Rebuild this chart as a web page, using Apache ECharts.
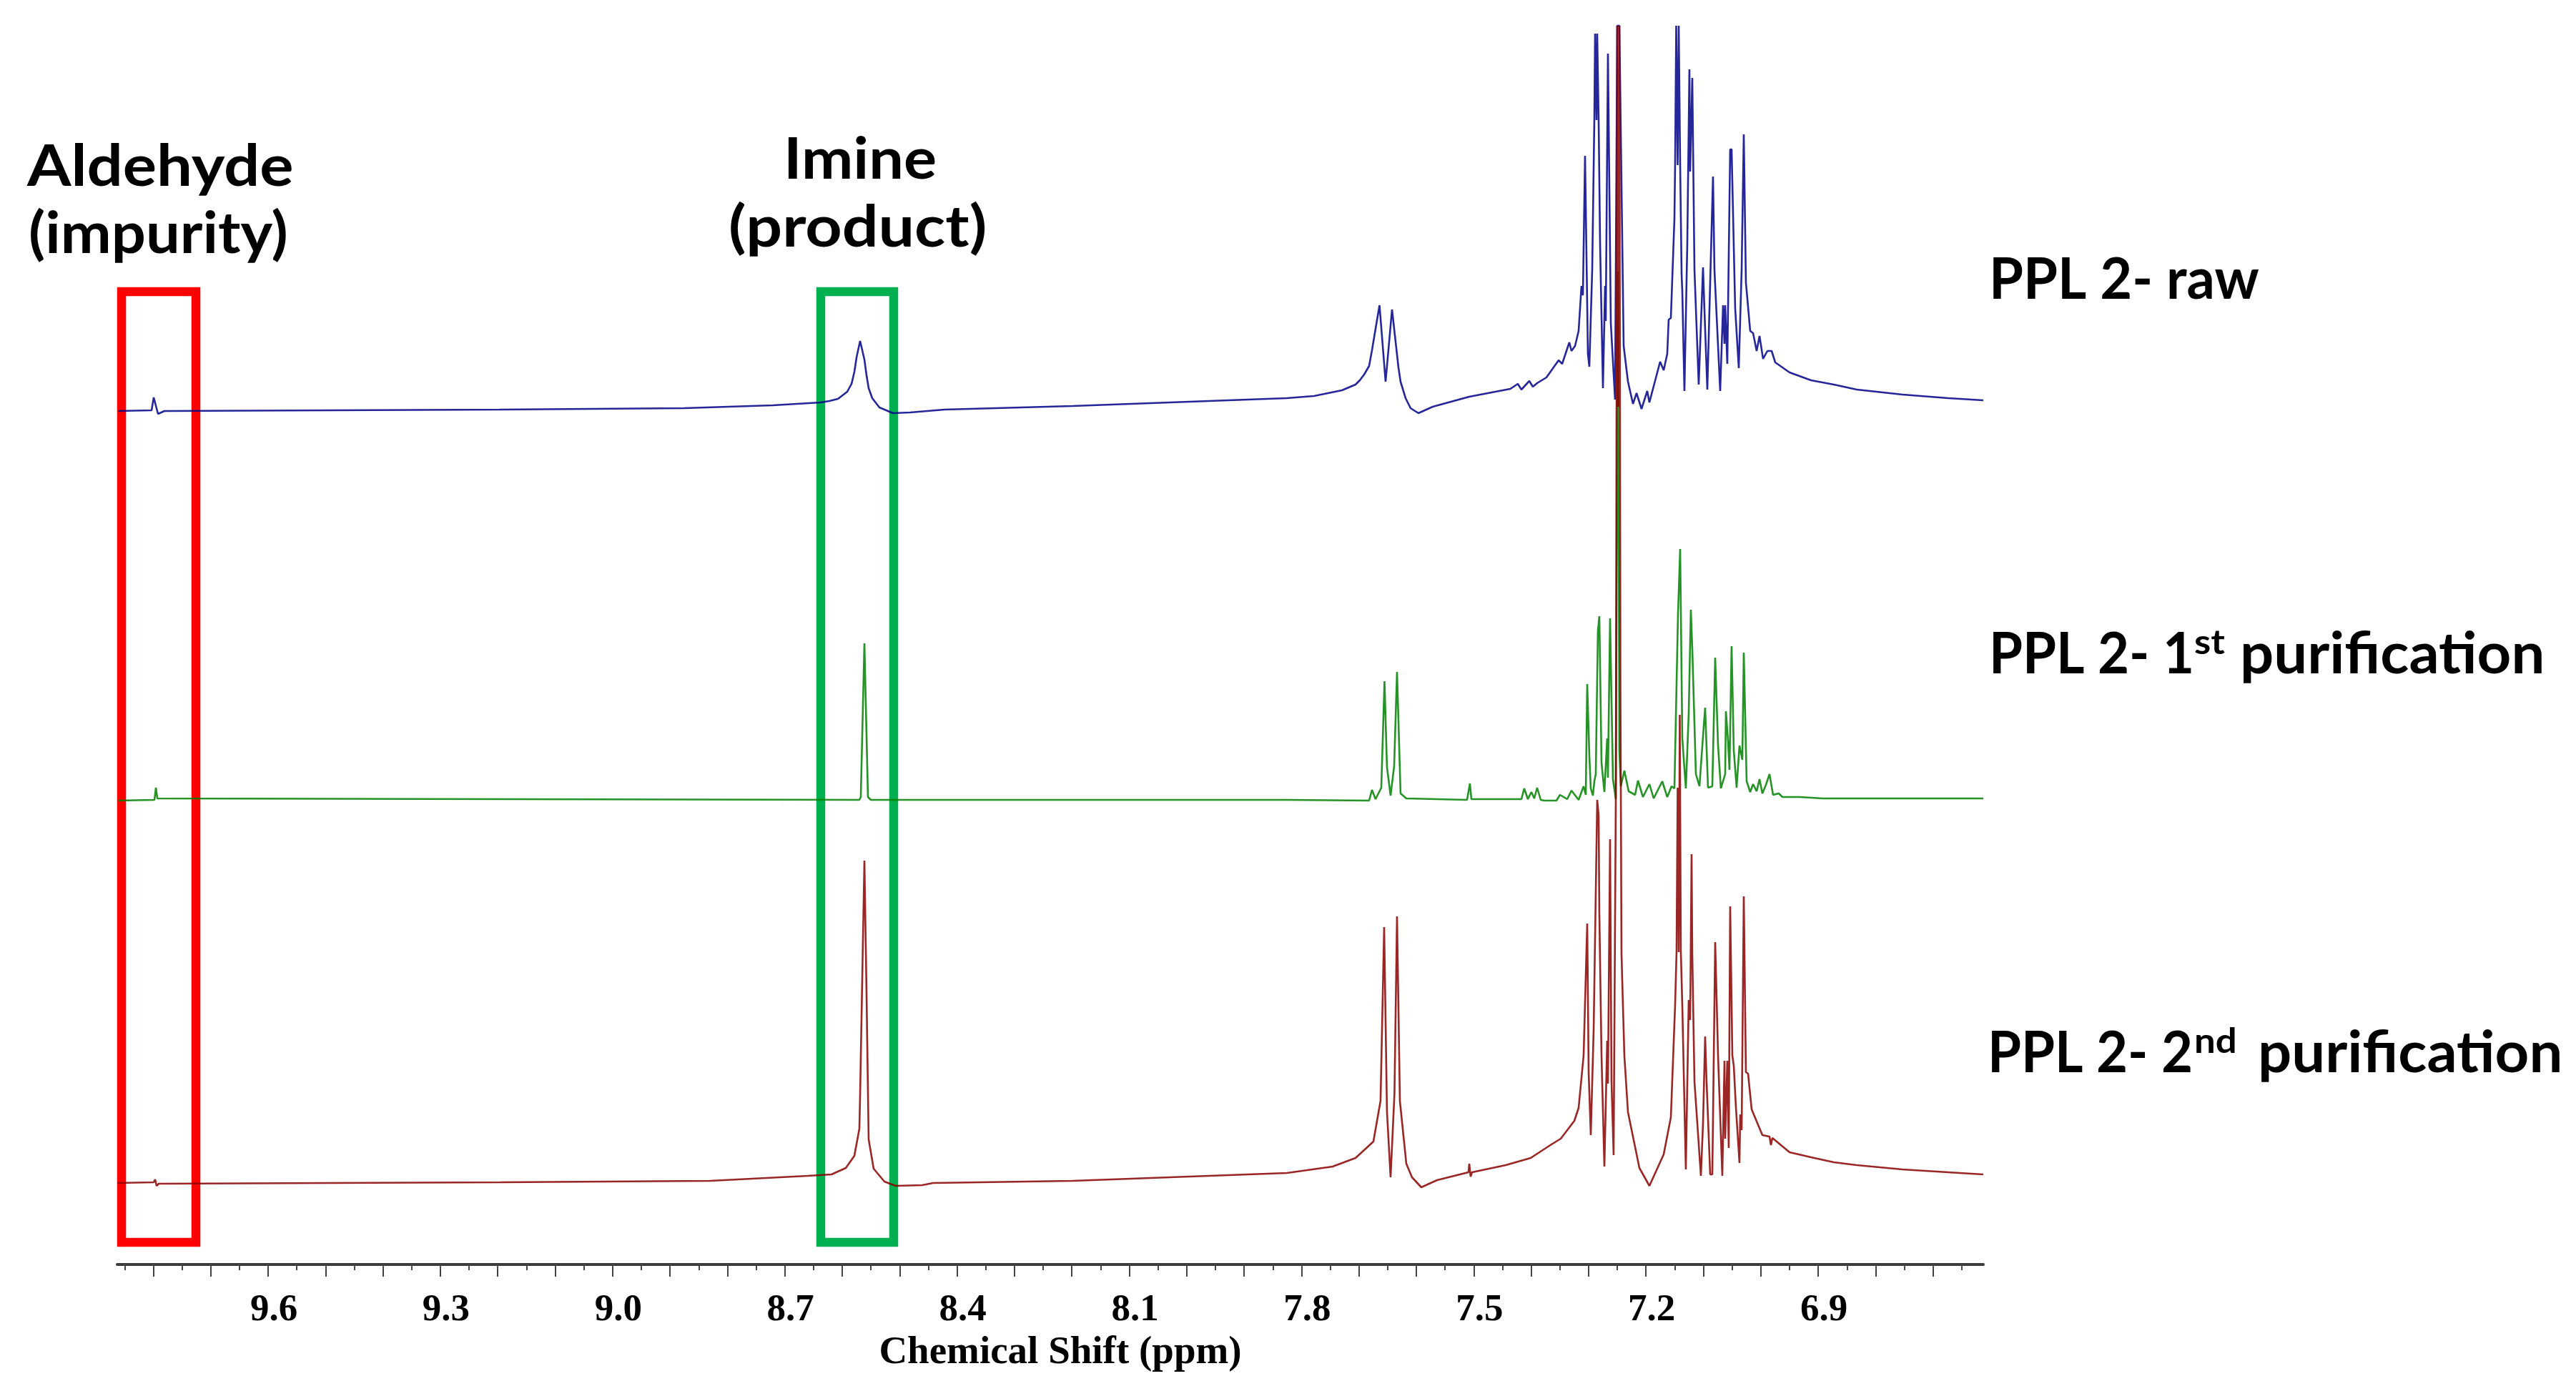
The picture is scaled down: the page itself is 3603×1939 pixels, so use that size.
<!DOCTYPE html>
<html><head><meta charset="utf-8">
<style>html,body{margin:0;padding:0;background:#fff}#c{width:3603px;height:1939px}</style>
<script src="https://cdn.jsdelivr.net/npm/echarts@6/dist/echarts.min.js"></script>
</head><body><div id="c"></div>
<script>
const labelTicks=[9.6,9.3,9.0,8.7,8.4,8.1,7.8,7.5,7.2,6.9];
const majorTicks=[9.8,9.7,9.6,9.5,9.4,9.3,9.2,9.1,9.0,8.9,8.8,8.7,8.6,8.5,8.4,8.3,8.2,8.1,8.0,7.9,7.8,7.7,7.6,7.5,7.4,7.3,7.2,7.1,7.0,6.9,6.8,6.7];
const minorTicks=[9.85,9.75,9.65,9.55,9.45,9.35,9.25,9.15,9.05,8.95,8.85,8.75,8.65,8.55,8.45,8.35,8.25,8.15,8.05,7.95,7.85,7.75,7.65,7.55,7.45,7.35,7.25,7.15,7.05,6.95,6.85,6.75,6.65];

const rawShift=[9.8615,9.8030,9.7993,9.7918,9.7806,9.1965,8.8753,8.7208,8.6374,8.6224,8.6075,8.5913,8.5838,8.5788,8.5751,8.5689,8.5614,8.5577,8.5540,8.5478,8.5353,8.5116,8.4817,8.4220,8.1990,7.8255,7.7782,7.7296,7.7060,7.6985,7.6910,7.6823,7.6773,7.6642,7.6536,7.6424,7.6312,7.6275,7.6188,7.6101,7.5964,7.5715,7.5079,7.4363,7.4233,7.4170,7.4033,7.3971,7.3896,7.3734,7.3522,7.3460,7.3336,7.3298,7.3236,7.3174,7.3124,7.3099,7.3062,7.3012,7.2987,7.2937,7.2900,7.2887,7.2862,7.2850,7.2825,7.2800,7.2750,7.2713,7.2701,7.2663,7.2613,7.2539,7.2501,7.2464,7.2389,7.2314,7.2227,7.2165,7.2078,7.1978,7.1941,7.1754,7.1692,7.1630,7.1605,7.1567,7.1505,7.1493,7.1474,7.1449,7.1430,7.1405,7.1380,7.1368,7.1331,7.1281,7.1244,7.1231,7.1194,7.1156,7.1082,7.1007,7.0982,7.0932,7.0833,7.0808,7.0708,7.0658,7.0633,7.0621,7.0584,7.0534,7.0509,7.0447,7.0384,7.0334,7.0297,7.0260,7.0185,7.0135,7.0073,7.0023,6.9961,6.9886,6.9811,6.9749,6.9500,6.9126,6.8728,6.8329,6.7533,6.6736,6.6125];
const rawValue=[1194,1195,1213,1190,1194,1196,1198,1202,1206,1208,1211,1221,1232,1249,1269,1292,1266,1244,1226,1212,1199,1191,1192,1196,1201,1212,1215,1223,1231,1237,1245,1257,1279,1342,1235,1336,1255,1235,1212,1198,1191,1200,1214,1225,1232,1224,1236,1228,1233,1241,1265,1260,1290,1278,1285,1306,1369,1356,1551,1274,1256,1392,1601,1722,1601,1722,1601,1428,1226,1369,1320,1694,1317,1210,1733,1733,1285,1235,1204,1219,1197,1222,1206,1263,1251,1274,1322,1324,1463,1538,1733,1538,1733,1538,1385,1362,1222,1428,1672,1529,1660,1392,1231,1395,1335,1224,1522,1392,1222,1342,1288,1342,1260,1560,1560,1338,1254,1392,1581,1374,1306,1303,1278,1299,1267,1278,1278,1262,1248,1237,1231,1224,1217,1212,1209];

const firstShift=[9.8615,9.7980,9.7955,9.7930,8.5702,8.5677,8.5614,8.5552,8.5502,7.8255,7.6823,7.6773,7.6711,7.6611,7.6555,7.6512,7.6449,7.6387,7.6337,7.6275,7.6175,7.5117,7.5067,7.5042,7.4170,7.4121,7.4058,7.3996,7.3946,7.3896,7.3834,7.3771,7.3560,7.3498,7.3373,7.3298,7.3174,7.3087,7.3049,7.3024,7.2987,7.2962,7.2925,7.2900,7.2875,7.2838,7.2813,7.2775,7.2725,7.2676,7.2663,7.2626,7.2576,7.2526,7.2489,7.2464,7.2439,7.2377,7.2302,7.2190,7.2140,7.2053,7.1941,7.1866,7.1717,7.1630,7.1555,7.1505,7.1443,7.1405,7.1368,7.1306,7.1256,7.1219,7.1194,7.1131,7.1069,7.1007,7.0970,7.0920,7.0845,7.0795,7.0745,7.0696,7.0621,7.0608,7.0571,7.0546,7.0509,7.0471,7.0422,7.0372,7.0322,7.0297,7.0247,7.0185,7.0135,7.0073,7.0023,6.9973,6.9911,6.9849,6.9787,6.9687,6.9625,6.9326,6.8915,6.6125];
const firstValue=[649,650,667,652,650,654,869,654,650,650,649,664,651,667,816,696,656,697,829,659,652,650,673,651,651,666,651,661,652,667,650,649,649,657,651,663,650,669,657,812,712,666,656,676,686,886,907,702,661,736,681,904,679,651,1389,719,669,691,662,657,677,654,672,652,676,654,669,666,909,1001,736,666,771,916,862,686,669,739,779,667,669,849,726,666,686,774,732,692,865,719,667,726,706,856,676,661,672,662,679,659,671,686,657,659,654,654,652,652];

const secondShift=[9.8628,9.7993,9.7968,9.7943,9.7905,9.1953,8.8304,8.6598,8.6187,8.5938,8.5789,8.5702,8.5689,8.5614,8.5577,8.5540,8.5453,8.5266,8.5067,8.4606,8.4419,8.1990,7.8255,7.7458,7.7060,7.6910,7.6748,7.6624,7.6561,7.6512,7.6449,7.6381,7.6337,7.6287,7.6175,7.6076,7.5914,7.5640,7.5092,7.5079,7.5055,7.5030,7.4444,7.4009,7.3647,7.3485,7.3248,7.3174,7.3087,7.3024,7.2999,7.2962,7.2912,7.2850,7.2825,7.2813,7.2775,7.2725,7.2676,7.2663,7.2626,7.2601,7.2564,7.2526,7.2501,7.2483,7.2464,7.2445,7.2427,7.2377,7.2314,7.2115,7.1941,7.1692,7.1567,7.1493,7.1468,7.1449,7.1430,7.1412,7.1393,7.1368,7.1306,7.1256,7.1231,7.1206,7.1194,7.1156,7.1044,7.1007,7.0970,7.0945,7.0882,7.0845,7.0795,7.0745,7.0671,7.0633,7.0621,7.0584,7.0559,7.0534,7.0496,7.0471,7.0434,7.0372,7.0359,7.0334,7.0297,7.0260,7.0222,7.0160,6.9973,6.9849,6.9824,6.9799,6.9500,6.9126,6.8728,6.8329,6.7533,6.6736,6.6125];
const secondValue=[114,115,119,110,113,115,117,124,126,135,152,190,236,565,379,175,134,116,110,111,114,117,128,137,149,160,172,229,472,214,122,240,487,229,141,122,108,118,129,141,123,129,139,149,168,176,201,219,292,477,269,181,328,650,628,492,292,137,313,253,595,256,153,649,1733,1200,1733,800,435,292,213,135,110,154,206,363,437,667,437,769,437,363,133,370,342,574,435,256,124,197,319,256,126,126,451,292,124,285,176,285,163,501,292,278,220,142,210,188,515,269,267,217,181,179,167,177,157,150,143,139,133,129,126];

const impurityBox=[9.8553,9.7258,31,1361];
const productBox=[8.6374,8.5104,31,1361];
const headings=[
 {t:'Aldehyde',x:38,y:234,k:1.107},{t:'(impurity)',x:40,y:328,k:1.06},
 {t:'Imine',x:1096,y:224,k:1.08},{t:'(product)',x:1019,y:319,k:1.12},
 {t:'PPL 2- raw',x:2782,y:392,k:0.97},
 {t:'PPL 2- 1',x:2782,y:916,k:0.95},{t:'st',x:3069,y:900,s:48,k:1.1},{t:'purification',x:3133,y:916,k:1.04},
 {t:'PPL 2- 2',x:2780,y:1474,k:0.95},{t:'nd',x:3069,y:1458,s:48,k:1.1},{t:'purification',x:3158,y:1474,k:1.04}
];
const zip=(a,b)=>a.map((v,i)=>[v,b[i]]);
const line=(name,color,xs,ys,extra)=>Object.assign({name,type:'line',data:zip(xs,ys),showSymbol:false,symbol:'none',animation:false,smooth:false,clip:false,lineStyle:{color,width:2.6,opacity:0.85,join:'miter',miterLimit:1}},extra||{});
const box=(b,color)=>({silent:true,label:{show:false},itemStyle:{color:'rgba(0,0,0,0)',borderColor:color,borderWidth:12.5},data:[[{coord:[b[0],b[2]]},{coord:[b[1],b[3]]}]]});
const chart=echarts.init(document.getElementById('c'),null,{renderer:'canvas'});
chart.setOption({
 animation:false,backgroundColor:'#ffffff',
 grid:{left:164,right:829,top:0,bottom:170},
 xAxis:[{
   type:'value',inverse:true,min:6.6125,max:9.8628,position:'bottom',splitLine:{show:false},
   axisLine:{show:true,onZero:false,lineStyle:{color:'#3c3c3c',width:4}},
   axisTick:{show:true,length:17,inside:false,customValues:majorTicks,lineStyle:{color:'#444',width:2}},
   axisLabel:{show:true,customValues:labelTicks,margin:38,padding:[0,0,0,16],hideOverlap:false,formatter:v=>v.toFixed(1),color:'#000',fontFamily:'Liberation Serif',fontWeight:'bold',fontSize:53},
   name:'Chemical Shift (ppm)',nameLocation:'middle',nameGap:88,
   nameTextStyle:{color:'#000',fontFamily:'Liberation Serif',fontWeight:'bold',fontSize:55,padding:[0,0,0,28]}
 },{
   type:'value',inverse:true,min:6.6125,max:9.8628,position:'bottom',splitLine:{show:false},
   axisLine:{show:false},axisLabel:{show:false},
   axisTick:{show:true,length:8,inside:false,customValues:minorTicks,lineStyle:{color:'#444',width:2}}
 }],
 yAxis:{type:'value',min:0,max:1769,show:false},
 series:[
  line('PPL 2- raw','#00008a',rawShift,rawValue,{markArea:box(impurityBox,'#ff0000'),z:3}),
  line('PPL 2- 1st purification','#008000',firstShift,firstValue,{markArea:box(productBox,'#00b050'),z:4}),
  line('PPL 2- 2nd purification','#880000',secondShift,secondValue,{z:5})
 ],
 graphic:headings.map(h=>({type:'text',z:20,silent:true,x:h.x,y:h.y,scaleX:h.k,style:{text:h.t,fill:'#000',font:'bold '+(h.s||80)+'px Lato',textVerticalAlign:'middle',textAlign:'left'}}))
});
</script></body></html>
